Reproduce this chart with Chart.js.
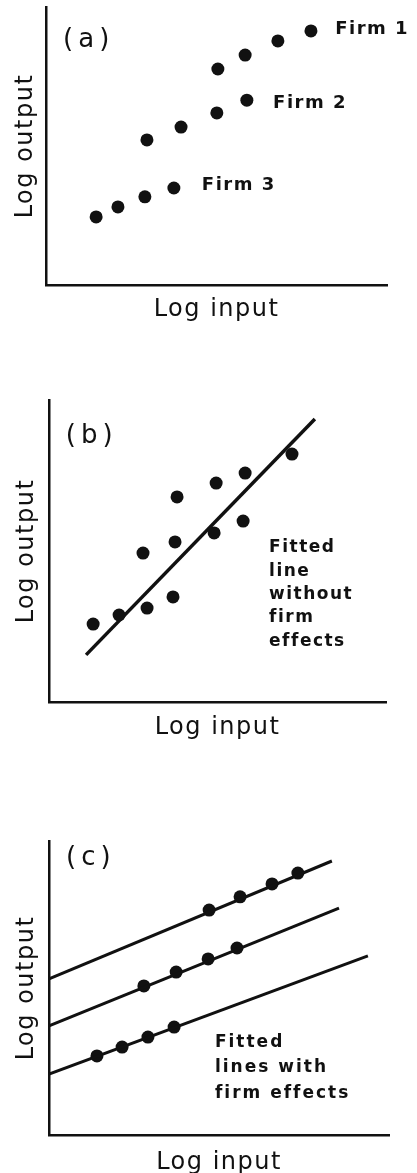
<!DOCTYPE html>
<html lang="en">
<head>
<meta charset="UTF-8">
<title>Firm effects</title>
<style>
  html, body { margin: 0; padding: 0; background: #fff; }
  body { width: 417px; height: 1173px; position: relative; overflow: hidden; }
  canvas { position: absolute; left: 0; }
</style>
</head>
<body>
<canvas id="chartA" width="417" height="330" style="top:0px"></canvas>
<canvas id="chartB" width="417" height="380" style="top:370px"></canvas>
<canvas id="chartC" width="417" height="400" style="top:780px"></canvas>

<script src="https://cdn.jsdelivr.net/npm/chart.js@4.4.0/dist/chart.umd.min.js"></script>
<script>
// all values are on a 0-100 scale for both axes (no units on the original)

// (a) three firms
const aFirm1X = [50.4, 58.4, 68.0, 77.7];
const aFirm1Y = [77.7, 82.7, 87.8, 91.4];
const aFirm2X = [29.6, 39.6, 50.1, 58.9];
const aFirm2Y = [52.2, 56.8, 61.9, 66.5];
const aFirm3X = [14.7, 21.1, 29.0, 37.5];
const aFirm3Y = [24.5, 28.1, 31.7, 34.9];
const firmNames = ['Firm 1', 'Firm 2', 'Firm 3'];

// (b) pooled points + one fitted line
const bPointsX = [13.1, 20.8, 27.9, 29.1, 38.0, 37.4, 36.8, 49.6, 49.0, 58.2, 57.6, 72.1];
const bPointsY = [25.8, 28.8, 49.3, 31.1, 67.9, 53.0, 34.8, 72.5, 56.0, 75.8, 59.9, 82.1];
const bFitX = [11.0, 78.9];
const bFitY = [15.6, 93.7];
const bNote = ['Fitted', 'line', 'without', 'firm', 'effects'];

// (c) firm points + one line per firm
const cFirm1X = [47.1, 56.2, 65.6, 73.2];
const cFirm1Y = [76.5, 81.0, 85.4, 89.1];
const cFirm2X = [27.9, 37.4, 46.8, 55.3];
const cFirm2Y = [50.7, 55.4, 59.9, 63.6];
const cFirm3X = [14.1, 21.5, 29.1, 36.8];
const cFirm3Y = [26.9, 29.9, 33.3, 36.7];
const cLine1X = [0, 83.2];
const cLine1Y = [53.1, 93.2];
const cLine2X = [0, 85.3];
const cLine2Y = [37.1, 77.2];
const cLine3X = [0, 93.8];
const cLine3Y = [20.7, 60.9];
const cNote = ['Fitted', 'lines with', 'firm effects'];

const panelTags = ['(a)', '(b)', '(c)'];
const xTitle = 'Log input';
const yTitle = 'Log output';

const ink = '#111';
const family = "'DejaVu Sans', sans-serif";

function pts(xs, ys) {
  return xs.map((x, i) => ({ x: x, y: ys[i] }));
}

function dots(xs, ys) {
  return { data: pts(xs, ys), pointRadius: 6.5, pointBackgroundColor: ink, pointBorderWidth: 0, showLine: false };
}

function line(xs, ys, w) {
  return { data: pts(xs, ys), pointRadius: 0, borderColor: ink, borderWidth: w, showLine: true };
}

// text placed at data positions, plus letter spacing for the axis titles
const notesPlugin = {
  id: 'notes',
  beforeDraw(chart) {
    chart.ctx.letterSpacing = '1.5px';
  },
  afterDatasetsDraw(chart, args, opts) {
    const ctx = chart.ctx;
    const sx = chart.scales.x, sy = chart.scales.y;
    ctx.save();
    ctx.fillStyle = ink;
    ctx.textBaseline = 'middle';
    ctx.textAlign = 'left';
    (opts.items || []).forEach(it => {
      ctx.font = it.font;
      ctx.letterSpacing = it.spacing || '0px';
      const x = sx.getPixelForValue(it.x);
      let y = sy.getPixelForValue(it.y);
      it.lines.forEach(t => {
        ctx.fillText(t, x, y);
        y += it.lineHeight || 0;
      });
    });
    ctx.restore();
  }
};

function axis(text, pad) {
  return {
    type: 'linear', min: 0, max: 100,
    grid: { display: false, drawTicks: false },
    ticks: { display: false },
    border: { display: true, color: ink, width: 2.5 },
    title: { display: true, text: text, color: ink, font: { family: family, size: 24 }, padding: pad }
  };
}

function panel(id, datasets, layoutPad, xPad, yPad, items) {
  return new Chart(document.getElementById(id), {
    type: 'scatter',
    data: { datasets: datasets },
    options: {
      responsive: false,
      animation: false,
      layout: { padding: layoutPad },
      plugins: { legend: { display: false }, tooltip: { enabled: false }, notes: { items: items } },
      scales: { x: axis(xTitle, xPad), y: axis(yTitle, yPad) }
    },
    plugins: [notesPlugin]
  });
}

const tagFont = 'normal 26px ' + family;
const firmFont = 'bold 18px ' + family;
const noteFont = 'bold 17px ' + family;

panel('chartA',
  [dots(aFirm1X, aFirm1Y), dots(aFirm2X, aFirm2Y), dots(aFirm3X, aFirm3Y)],
  { top: 7, right: 30, bottom: 5.6, left: 0 },
  { top: 10.6, bottom: 0 }, { top: 11.6, bottom: 5.6 },
  [
    { lines: [panelTags[0]], x: 5.0, y: 88.1, font: tagFont, spacing: '5px' },
    { lines: [firmNames[0]], x: 84.8, y: 92.1, font: firmFont, spacing: '1.5px' },
    { lines: [firmNames[1]], x: 66.6, y: 65.5, font: firmFont, spacing: '1.5px' },
    { lines: [firmNames[2]], x: 45.7, y: 35.8, font: firmFont, spacing: '1.5px' }
  ]);

panel('chartB',
  [line(bFitX, bFitY, 3.5), dots(bPointsX, bPointsY)],
  { top: 30, right: 31, bottom: 7.6, left: 0 },
  { top: 11.6, bottom: 0 }, { top: 12.6, bottom: 7.6 },
  [
    { lines: [panelTags[1]], x: 5.0, y: 88.1, font: tagFont, spacing: '5px' },
    { lines: bNote, x: 65.3, y: 51.0, font: noteFont, spacing: '1.5px', lineHeight: 23.3 }
  ]);

panel('chartC',
  [line(cLine1X, cLine1Y, 3), line(cLine2X, cLine2Y, 3), line(cLine3X, cLine3Y, 3),
   dots(cFirm1X, cFirm1Y), dots(cFirm2X, cFirm2Y), dots(cFirm3X, cFirm3Y)],
  { top: 61, right: 28, bottom: 2.6, left: 0 },
  { top: 13.6, bottom: 0 }, { top: 12.6, bottom: 7.6 },
  [
    { lines: [panelTags[2]], x: 5.0, y: 94.2, font: tagFont, spacing: '5px' },
    { lines: cNote, x: 48.8, y: 31.6, font: noteFont, spacing: '2px', lineHeight: 25.7 }
  ]);
</script>
</body>
</html>
